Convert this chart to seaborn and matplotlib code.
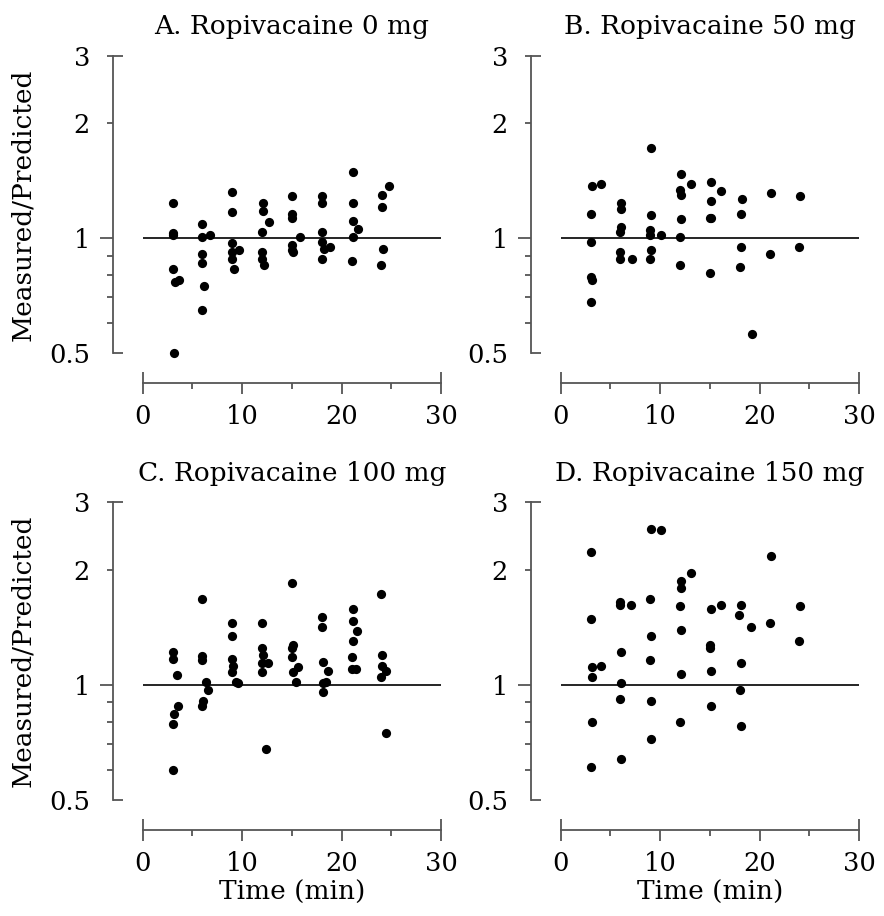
import numpy as np
import pandas as pd
import matplotlib.pyplot as plt
import seaborn as sns
from matplotlib.ticker import NullFormatter

# Panel titles
titles = ['A. Ropivacaine 0 mg', 'B. Ropivacaine 50 mg',
          'C. Ropivacaine 100 mg', 'D. Ropivacaine 150 mg']

# A. 0 mg
time_a = [3.0, 3.0, 3.0, 3.0, 3.2, 3.7, 3.1,
          6.0, 6.0, 6.8, 6.0, 6.0, 6.2, 6.0,
          9.0, 9.0, 9.0, 9.0, 9.7, 9.0, 9.2,
          12.1, 12.1, 12.7, 12.0, 12.0, 12.0, 12.2,
          15.0, 15.0, 15.0, 15.8, 15.0, 15.0, 15.1,
          18.0, 18.0, 18.0, 18.0, 18.2, 18.8, 18.0,
          21.1, 21.1, 21.1, 21.7, 21.2, 21.0,
          24.1, 24.1, 24.8, 24.2, 24.0]
ratio_a = [1.24, 1.03, 1.02, 0.83, 0.77, 0.78, 0.50,
           1.09, 1.01, 1.02, 0.91, 0.86, 0.75, 0.65,
           1.32, 1.17, 0.97, 0.92, 0.93, 0.88, 0.83,
           1.24, 1.18, 1.10, 1.04, 0.92, 0.88, 0.85,
           1.29, 1.16, 1.13, 1.01, 0.96, 0.93, 0.92,
           1.29, 1.24, 1.04, 0.98, 0.94, 0.95, 0.88,
           1.49, 1.24, 1.11, 1.06, 1.01, 0.87,
           1.30, 1.21, 1.37, 0.94, 0.85]

# B. 50 mg
time_b = [3.1, 4.1, 3.0, 3.0, 3.0, 3.1, 3.0,
          6.1, 6.1, 6.1, 6.0, 6.0, 6.0, 7.2,
          9.1, 9.1, 9.0, 9.0, 10.1, 9.1, 9.0,
          12.1, 13.1, 12.0, 12.1, 12.1, 12.0, 12.0,
          15.1, 16.1, 15.1, 15.0, 15.1, 15.0,
          18.2, 18.1, 18.1, 18.0, 19.2,
          21.1, 21.0,
          24.1, 24.0]
ratio_b = [1.37, 1.39, 1.16, 0.98, 0.79, 0.78, 0.68,
           1.24, 1.19, 1.07, 1.04, 0.92, 0.88, 0.88,
           1.72, 1.15, 1.05, 1.02, 1.02, 0.93, 0.88,
           1.47, 1.39, 1.34, 1.30, 1.12, 1.01, 0.85,
           1.40, 1.33, 1.25, 1.13, 1.13, 0.81,
           1.27, 1.16, 0.95, 0.84, 0.56,
           1.31, 0.91,
           1.29, 0.95]

# C. 100 mg
time_c = [3.0, 3.0, 3.4, 3.6, 3.1, 3.0, 3.0,
          6.0, 6.0, 6.0, 6.4, 6.6, 6.1, 6.0,
          9.0, 9.0, 9.0, 9.1, 9.0, 9.4, 9.6,
          12.0, 12.0, 12.1, 12.0, 12.6, 12.0, 12.4,
          15.0, 15.1, 15.0, 15.0, 15.6, 15.1, 15.4,
          18.0, 18.0, 18.1, 18.6, 18.1, 18.4, 18.1,
          21.1, 21.1, 21.6, 21.1, 21.0, 21.0, 21.5,
          24.0, 24.1, 24.1, 24.5, 24.0, 24.5]
ratio_c = [1.22, 1.17, 1.06, 0.88, 0.84, 0.79, 0.60,
           1.68, 1.19, 1.16, 1.02, 0.97, 0.91, 0.88,
           1.45, 1.34, 1.17, 1.12, 1.08, 1.02, 1.01,
           1.45, 1.25, 1.20, 1.14, 1.14, 1.08, 0.68,
           1.85, 1.27, 1.25, 1.18, 1.11, 1.08, 1.02,
           1.50, 1.42, 1.15, 1.09, 1.01, 1.02, 0.96,
           1.58, 1.47, 1.38, 1.30, 1.18, 1.10, 1.10,
           1.73, 1.20, 1.12, 1.09, 1.05, 0.75]

# D. 150 mg
time_d = [3.0, 3.0, 3.1, 4.1, 3.1, 3.1, 3.0,
          6.0, 6.0, 7.1, 6.1, 6.1, 6.0, 6.1,
          9.1, 10.1, 9.0, 9.1, 9.0, 9.1, 9.1,
          12.1, 12.1, 13.1, 12.0, 12.1, 12.1, 12.0,
          15.1, 16.1, 15.0, 15.0, 15.1, 15.1,
          18.1, 17.9, 19.1, 18.1, 18.0, 18.1,
          21.1, 21.0,
          24.1, 24.0]
ratio_d = [2.22, 1.49, 1.11, 1.12, 1.05, 0.80, 0.61,
           1.65, 1.62, 1.62, 1.22, 1.01, 0.92, 0.64,
           2.55, 2.54, 1.68, 1.34, 1.16, 0.91, 0.72,
           1.87, 1.79, 1.96, 1.61, 1.39, 1.07, 0.80,
           1.58, 1.62, 1.27, 1.25, 1.09, 0.88,
           1.62, 1.52, 1.42, 1.14, 0.97, 0.78,
           2.17, 1.45,
           1.61, 1.30]

x_major = [0, 10, 20, 30]
x_minor = [5, 15, 25]
y_major = [0.5, 1, 2, 3]
y_labels = ['0.5', '1', '2', '3']
y_minor = [0.6, 0.7, 0.8, 0.9]

panels = [(time_a, ratio_a), (time_b, ratio_b), (time_c, ratio_c), (time_d, ratio_d)]
frames = []
for title, (t, r) in zip(titles, panels):
    frames.append(pd.DataFrame({'panel': title, 'time': t, 'ratio': r}))
df = pd.concat(frames, ignore_index=True)

sns.set_theme(style='ticks')
plt.rcParams['font.family'] = ['DejaVu Serif']
plt.rcParams['text.color'] = 'black'
plt.rcParams['axes.labelcolor'] = 'black'
spine_col = '#555555'

fig = plt.figure(figsize=(8.84, 9.16), dpi=100)
W, H = 884, 916
boxes = [(142.7, 56, 441, 353.3), (560.7, 56, 859, 353.3),
         (142.7, 502.3, 441, 800), (560.7, 502.3, 859, 800)]

for i, title in enumerate(titles):
    x0, y0, x1, y1 = boxes[i]
    ax = fig.add_axes([x0 / W, 1 - y1 / H, (x1 - x0) / W, (y1 - y0) / H])
    ax.axhline(1, color='black', lw=1.2, zorder=1)
    sns.scatterplot(data=df[df['panel'] == title], x='time', y='ratio', ax=ax,
                    color='black', s=44, linewidth=0, clip_on=False, zorder=3)
    ax.set_yscale('log')
    ax.set_xlim(0, 30)
    ax.set_ylim(0.5, 3)
    ax.set_xticks(x_major)
    ax.set_xticks(x_minor, minor=True)
    ax.set_yticks(y_major)
    ax.set_yticklabels(y_labels)
    ax.set_yticks(y_minor, minor=True)
    ax.yaxis.set_minor_formatter(NullFormatter())

    sns.despine(ax=ax, offset=21.6)
    for side in ['left', 'bottom']:
        ax.spines[side].set_color(spine_col)
        ax.spines[side].set_linewidth(1.3)

    ax.tick_params(which='both', direction='out', color=spine_col, width=1.3,
                   labelsize=18.5, labelcolor='black')
    ax.tick_params(axis='x', which='major', length=8, pad=7)
    ax.tick_params(axis='x', which='minor', length=4.3)
    ax.tick_params(axis='y', which='major', length=4.3, pad=12)
    ax.tick_params(axis='y', which='minor', length=4.3)

    # end caps on the axis lines
    xt = ax.xaxis.get_major_ticks()
    for t in (xt[0], xt[-1]):
        t.tick1line.set_marker('|')
        t.tick1line.set_markersize(16)
    yt = ax.yaxis.get_major_ticks()
    yt[0].tick1line.set_marker([(0, 0), (10, 0)])
    yt[0].tick1line.set_markersize(14.4)
    yt[1].tick1line.set_markersize(9.4)
    yt[-1].tick1line.set_marker([(-6, 0), (10, 0)])
    yt[-1].tick1line.set_markersize(14.4)

    ax.set_title(title, fontsize=19, pad=15.5, color='black')
    if i in (0, 2):
        ax.set_ylabel('Measured/Predicted', fontsize=19, labelpad=10)
    else:
        ax.set_ylabel('')
    if i in (2, 3):
        ax.set_xlabel('Time (min)', fontsize=19, labelpad=3)
    else:
        ax.set_xlabel('')

fig.savefig('out.png', dpi=100)
